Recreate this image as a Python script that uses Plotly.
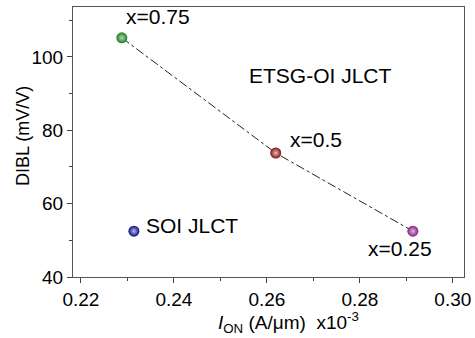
import plotly.graph_objects as go

etsg_ion = [0.2288, 0.2619, 0.2914]
etsg_dibl = [105.2, 73.8, 52.5]
etsg_colors = ["#128612", "#920a0a", "#981290"]
etsg_labels = ["x=0.75", "x=0.5", "x=0.25"]
soi_ion = [0.2314]
soi_dibl = [52.5]
x_ticks = [0.22, 0.24, 0.26, 0.28, 0.30]
y_ticks = [40, 60, 80, 100]

font = "Liberation Sans, Arial, sans-serif"

fig = go.Figure()
fig.add_trace(go.Scatter(x=etsg_ion, y=etsg_dibl, mode="lines",
                         line=dict(color="#222", width=1, dash="dashdot"),
                         showlegend=False, hoverinfo="skip"))
fig.add_trace(go.Scatter(x=etsg_ion, y=etsg_dibl, mode="markers",
                         marker=dict(size=11, color=etsg_colors,
                                     gradient=dict(type="radial", color="#c8c8c8"),
                                     line=dict(width=0)),
                         showlegend=False))
fig.add_trace(go.Scatter(x=soi_ion, y=soi_dibl, mode="markers",
                         marker=dict(size=11, color="#0a0a80",
                                     gradient=dict(type="radial", color="#b8b8e8"),
                                     line=dict(width=0)),
                         showlegend=False))

ann_font = dict(family=font, size=21, color="black")
fig.add_annotation(x=etsg_ion[0], y=etsg_dibl[0], text=etsg_labels[0], showarrow=False,
                   xanchor="left", yanchor="middle", xshift=2, yshift=21, font=ann_font)
fig.add_annotation(x=etsg_ion[1], y=etsg_dibl[1], text=etsg_labels[1], showarrow=False,
                   xanchor="left", yanchor="middle", xshift=12, yshift=14, font=ann_font)
fig.add_annotation(x=etsg_ion[2], y=etsg_dibl[2], text=etsg_labels[2], showarrow=False,
                   xanchor="left", yanchor="middle", xshift=-47, yshift=-17, font=ann_font)
fig.add_annotation(x=soi_ion[0], y=soi_dibl[0], text="SOI JLCT", showarrow=False,
                   xanchor="left", yanchor="middle", xshift=10, yshift=6, font=ann_font)
fig.add_annotation(x=0.2716, y=94.8, text="ETSG-OI JLCT", showarrow=False,
                   xanchor="center", yanchor="middle", font=ann_font)

# axis titles
fig.add_annotation(xref="paper", yref="paper", x=0.55, y=-0.168,
                   text="<i>I</i><sub>ON</sub> (A/μm)  x10<sup>-3</sup>", showarrow=False,
                   xanchor="center", yanchor="middle",
                   font=dict(family=font, size=19, color="black"))
fig.add_annotation(xref="paper", yref="paper", x=-0.128, y=0.522,
                   text="DIBL (mV/V)", showarrow=False, textangle=-90,
                   xanchor="center", yanchor="middle",
                   font=dict(family=font, size=18, color="black"))

fig.update_xaxes(range=[0.2183, 0.3024], tickvals=x_ticks,
                 ticktext=[f"{v:.2f}" for v in x_ticks],
                 ticks="outside", ticklen=5, tickcolor="#444",
                 minor=dict(dtick=0.01, tick0=0.21, ticks="outside", ticklen=3, tickcolor="#444"),
                 showline=True, linecolor="#555", linewidth=1, mirror=True,
                 showgrid=False, zeroline=False, automargin=False,
                 tickfont=dict(family=font, size=19, color="black"))
fig.update_yaxes(range=[40, 113.6], tickvals=y_ticks,
                 ticks="outside", ticklen=5, tickcolor="#444",
                 minor=dict(dtick=10, tick0=30, ticks="outside", ticklen=3, tickcolor="#444"),
                 showline=True, linecolor="#555", linewidth=1, mirror=True,
                 showgrid=False, zeroline=False, automargin=False,
                 tickfont=dict(family=font, size=19, color="black"))

fig.update_layout(width=475, height=338, margin=dict(l=73, r=11, t=7, b=61),
                  plot_bgcolor="white", paper_bgcolor="white")
fig.write_html("out.html", config={"displayModeBar": False},
               post_script="document.body.style.margin='0';")
